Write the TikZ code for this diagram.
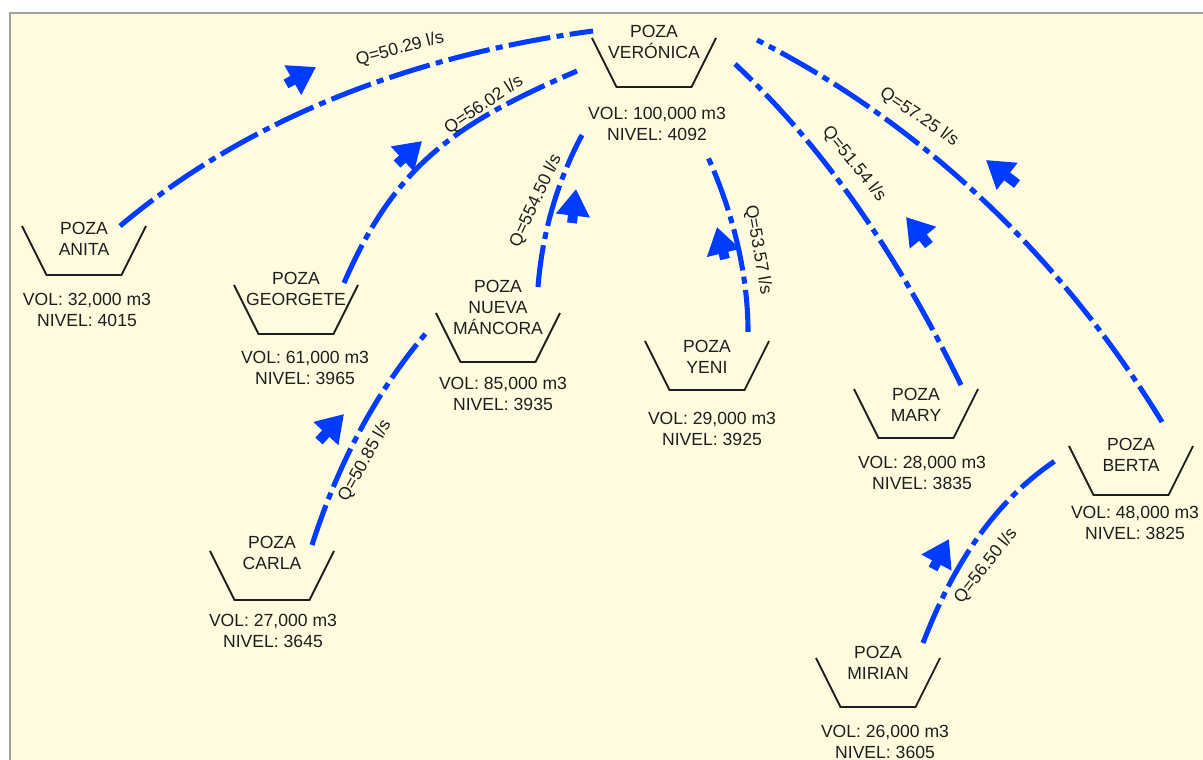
\documentclass[tikz,border=0pt]{standalone}
\usepackage{fontspec}
\setmainfont{Liberation Sans}
\usetikzlibrary{arrows.meta}
\definecolor{pzBlue}{HTML}{003CFF}
\definecolor{pzInk}{HTML}{1E1E1E}
\definecolor{pzPaper}{HTML}{FFFBDF}
\definecolor{pzFrame}{HTML}{A0A0A0}
\tikzset{
  pz diagram/.style={x=0.025cm, y=-0.025cm, text=pzInk,
    font=\fontsize{12.5}{14.9}\selectfont},
  pz basin/.style={minimum width=3.1cm, minimum height=1.225cm,
    inner sep=0pt, outer sep=0pt},
  pz wall/.style={draw=pzInk, line width=1.3pt, line join=miter},
  pz text/.style={align=center, inner sep=0pt},
  pz pipe/.style={draw=pzBlue, line width=3.6pt,
    dash pattern=on 30pt off 4.5pt on 5pt off 4.5pt},
  pz flow/.style={draw=pzBlue, line width=7pt,
    -{Triangle[length=19pt, width=23pt]}},
  pz label/.style={font=\fontsize{12.5}{14}\selectfont, inner sep=1pt}
}

\begin{document}
\begin{tikzpicture}[pz diagram]
\useasboundingbox (0,0) rectangle (1203,760);
\fill[pzPaper] (10,13) rectangle (1203,760);
\draw[pzFrame, line width=0.8pt] (10,760) -- (10,13) -- (1203,13);
% pozas
\foreach \id/\cx/\ty/\ny/\title/\dx/\dy/\vol/\niv in {
  anita/84/226/239/{POZA\\ANITA}/87/309.5/{32,000}/4015,
  georgete/296/285/288.5/{POZA\\GEORGETE}/305/368/{61,000}/3965,
  veronica/654/38/42/{POZA\\VERÓNICA}/657/123.5/{100,000}/4092,
  mancora/498/313/307/{POZA\\NUEVA\\MÁNCORA}/503/394/{85,000}/3935,
  carla/272/551/553/{POZA\\CARLA}/273/630.5/{27,000}/3645,
  yeni/707/341/356.5/{POZA\\YENI}/712/429/{29,000}/3925,
  mary/916/389/404.5/{POZA\\MARY}/922/472.5/{28,000}/3835,
  berta/1131/446/455/{POZA\\BERTA}/1135/522.5/{48,000}/3825,
  mirian/878/658/663/{POZA\\MIRIAN}/885/742/{26,000}/3605}{
  \node[pz basin] (\id) at (\cx,\ty+24.5) {};
  \draw[pz wall] (\id.north west) -- ([xshift=0.6125cm]\id.south west)
    -- ([xshift=-0.6125cm]\id.south east) -- (\id.north east);
  \node[pz text] (\id-name) at (\cx,\ny) {\title};
  \node[pz text] (\id-data) at (\dx,\dy) {VOL: \vol{} m3\\NIVEL: \niv};
}
% tuberias
\draw[pz pipe] ([shift={(-26,0)}]anita.north east)
  .. controls +(133,-112) and +(-172,23) .. ([shift={(1,-7)}]veronica.north west);
\draw[pz pipe] ([shift={(-14,-2)}]georgete.north east)
  .. controls +(52,-120) and +(-120,52) .. ([shift={(-15,33)}]veronica.north west);
\draw[pz pipe] ([shift={(-22,-26)}]mancora.north east)
  .. controls +(4,-53) and +(-25,47) .. ([shift={(-10,48)}]veronica.south west);
\draw[pz pipe] ([shift={(-21,-9)}]yeni.north east)
  .. controls +(0,-60) and +(25,55) .. ([shift={(53,68)}]veronica.south);
\draw[pz pipe] ([shift={(-17,-4)}]mary.north east)
  .. controls +(-58,-119) and +(96,90) .. ([shift={(19,26)}]veronica.north east);
\draw[pz pipe] ([shift={(-31,-24)}]berta.north east)
  .. controls +(-99,-162) and +(169,86) .. ([shift={(41,2)}]veronica.north east);
\draw[pz pipe] ([shift={(-22,-6)}]carla.north east)
  .. controls +(25,-78) and +(-53,62) .. ([shift={(-9,19)}]mancora.north west);
\draw[pz pipe] ([shift={(-17,-15)}]mirian.north east)
  .. controls +(28,-73) and +(-66,43) .. ([shift={(-11,13)}]berta.north west);
% caudales
\node[pz label, rotate=15] (q-anita) at (400,49) {Q=50.29 l/s};
\node[pz label, rotate=34] (q-georgete) at (484,105) {Q=56.02 l/s};
\node[pz label, rotate=65] (q-mancora) at (536,201) {Q=554.50 l/s};
\node[pz label, rotate=-80] (q-yeni) at (758,250) {Q=53.57 l/s};
\node[pz label, rotate=-51] (q-mary) at (854,164) {Q=51.54 l/s};
\node[pz label, rotate=-34] (q-berta) at (919,117) {Q=57.25 l/s};
\node[pz label, rotate=61] (q-carla) at (365,461) {Q=50.85 l/s};
\node[pz label, rotate=52] (q-mirian) at (986,566) {Q=56.50 l/s};
% sentido del flujo
\foreach \bx/\by/\tx/\ty in {286/84/316/67, 397/164/422/141, 572/223/576/189,
  725/259/717/227, 929/245/906/217, 1017/184/986/160, 319/441/344/414,
  933/569/949/539}
  \draw[pz flow] (\bx,\by) -- (\tx,\ty);
\end{tikzpicture}
\end{document}
